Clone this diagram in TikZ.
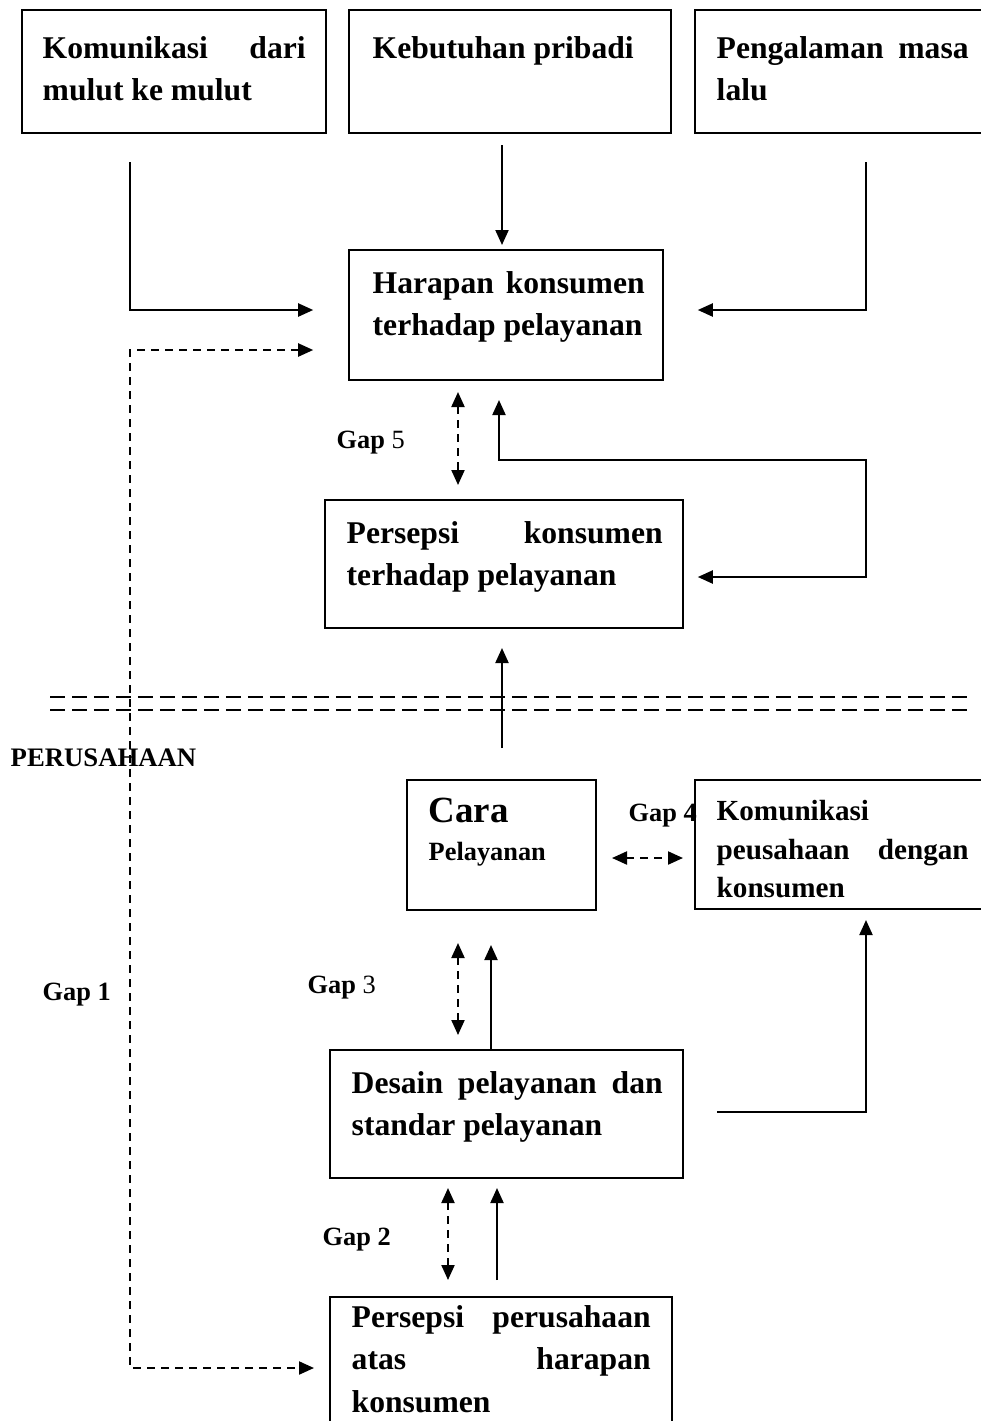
\documentclass[tikz,border=0pt]{standalone}
\usepackage{fontspec}
\setmainfont{Liberation Serif}
\usetikzlibrary{calc}
\usetikzlibrary{fit}
\usetikzlibrary{arrows.meta}
\tolerance=10000
\hyphenpenalty=10000

\tikzset{
    kotak/.style={draw, line width=0.45pt, inner sep=0pt},
    isi/.style={anchor=north west, inner sep=0pt, align=justify, font=\bfseries\fontsize{9}{11.8}\selectfont},
    panah/.style={line width=0.6pt, -{Triangle[length=1.5mm, width=1.3mm]}},
    duapanah/.style={line width=0.6pt, {Triangle[length=1.5mm, width=1.3mm]}-{Triangle[length=1.5mm, width=1.3mm]}},
    putus/.style={dash pattern=on 0.8mm off 0.6mm},
    gaplabel/.style={anchor=base west, inner sep=0pt, font=\bfseries\fontsize{7.5}{9}\selectfont},
}

\begin{document}
\begin{tikzpicture}[x=0.1mm, y=-0.1mm]
            \useasboundingbox (0,0) rectangle (981,1421);
            \node[kotak, fit={(22,10) (326,133)}] (komA) {};
            \node[kotak, fit={(349,10) (671,133)}] (kebutuhan) {};
            \node[kotak, fit={(695,10) (995,133)}] (pengalaman) {};
            \node[kotak, fit={(349,250) (663,380)}] (harapan) {};
            \node[kotak, fit={(325,500) (683,628)}] (persepsiK) {};
            \node[kotak, fit={(407,780) (596,910)}] (cara) {};
            \node[kotak, fit={(695,780) (995,909)}] (komB) {};
            \node[kotak, fit={(330,1050) (683,1178)}] (desain) {};
            \node[kotak, fit={(330,1297) (672,1440)}] (persepsiP) {};
            \node[isi, text width=2.63cm] (tkomA) at (42,36) {Komunikasi dari\linebreak mulut ke mulut};
            \node[isi, text width=2.9cm] (tkebutuhan) at (372,36) {Kebutuhan pribadi};
            \node[isi, text width=2.52cm] (tpengalaman) at (716,36) {Pengalaman masa\linebreak lalu};
            \node[isi, text width=2.72cm] (tharapan) at (372,271) {Harapan konsumen\linebreak terhadap pelayanan};
            \node[isi, text width=3.16cm] (tpersepsiK) at (346,521) {Persepsi konsumen\linebreak terhadap pelayanan};
            \node[anchor=north west, inner sep=0pt, align=left, font=\bfseries\fontsize{7.5}{10.8}\selectfont] (tcara) at (428,797) {{\bfseries\fontsize{10.5}{10.8}\selectfont Cara}\\Pelayanan};
            \node[isi, text width=2.52cm, font=\bfseries\fontsize{8.3}{10.9}\selectfont] (tkomB) at (716,800) {Komunikasi\linebreak peusahaan dengan\linebreak konsumen};
            \node[isi, text width=3.11cm] (tdesain) at (351,1071) {Desain pelayanan dan\linebreak standar pelayanan};
            \node[isi, text width=2.99cm, font=\bfseries\fontsize{9}{12}\selectfont] (tpersepsiP) at (351,1305) {Persepsi perusahaan\linebreak atas harapan\linebreak konsumen};
            \node[gaplabel, font=\bfseries\fontsize{7.6}{9}\selectfont] (perusahaan) at (10,766) {PERUSAHAAN};
            \node[gaplabel] (gap5) at (336,448) {Gap \textmd{5}};
            \node[gaplabel] (gap4) at (628,821) {Gap 4};
            \node[gaplabel] (gap3) at (307,993) {Gap \textmd{3}};
            \node[gaplabel] (gap1) at (42,1000) {Gap 1};
            \node[gaplabel] (gap2) at (322,1245) {Gap 2};
            \coordinate (komA bawah) at (130,162) {};
            \coordinate (harapan kiri) at ($(harapan.west)+(-35,-5)$) {};
            \coordinate (kebutuhan bawah) at (502,145) {};
            \coordinate (harapan atas) at (502,245) {};
            \coordinate (pengalaman bawah) at (866,162) {};
            \coordinate (harapan kanan) at ($(harapan.east)+(34,-5)$) {};
            \coordinate (gap1 atas) at ($(harapan.west)+(-35,35)$) {};
            \coordinate (gap1 sudut atas) at (130,350) {};
            \coordinate (gap1 sudut bawah) at (130,1368) {};
            \coordinate (gap1 bawah) at (314,1368) {};
            \coordinate (gap5 atas) at (458,392) {};
            \coordinate (gap5 bawah) at (458,485) {};
            \coordinate (harapan bawah) at (499,400) {};
            \coordinate (balik) at (866,460) {};
            \coordinate (persepsiK kanan) at ($(persepsiK.east)+(14,13)$) {};
            \coordinate (persepsiK bawah) at (502,648) {};
            \coordinate (cara atas) at (502,748) {};
            \coordinate (garis kiri) at (50,697) {};
            \coordinate (garis kanan) at (968,697) {};
            \coordinate (gap4 kiri) at (612,858) {};
            \coordinate (gap4 kanan) at (683,858) {};
            \coordinate (gap3 atas) at (458,943) {};
            \coordinate (gap3 bawah) at (458,1035) {};
            \coordinate (cara bawah) at (491,945) {};
            \coordinate (desain atas) at (491,1050) {};
            \coordinate (desain kanan) at (717,1112) {};
            \coordinate (komB bawah) at (866,920) {};
            \coordinate (gap2 atas) at (448,1188) {};
            \coordinate (gap2 bawah) at (448,1280) {};
            \coordinate (desain bawah) at (497,1188) {};
            \coordinate (persepsiP atas) at (497,1280) {};
            \draw[panah] (komA bawah) |- (harapan kiri);
            \draw[panah] (kebutuhan bawah) -- (harapan atas);
            \draw[panah] (pengalaman bawah) |- (harapan kanan);
            \draw[duapanah, putus] (gap1 atas) -- (gap1 sudut atas) -- (gap1 sudut bawah) -- (gap1 bawah);
            \draw[duapanah, putus] (gap5 atas) -- (gap5 bawah);
            \draw[duapanah] (harapan bawah) |- (balik) |- (persepsiK kanan);
            \draw[panah] (cara atas) -- (persepsiK bawah);
            \draw[line width=0.6pt, dash pattern=on 1.5mm off 0.7mm] (garis kiri) -- (garis kanan);
            \draw[line width=0.6pt, dash pattern=on 1.5mm off 0.7mm] ($(garis kiri)+(0,13)$) -- ($(garis kanan)+(0,13)$);
            \draw[duapanah, putus] (gap4 kiri) -- (gap4 kanan);
            \draw[duapanah, putus] (gap3 atas) -- (gap3 bawah);
            \draw[panah] (desain atas) -- (cara bawah);
            \draw[panah] (desain kanan) -| (komB bawah);
            \draw[duapanah, putus] (gap2 atas) -- (gap2 bawah);
            \draw[panah] (persepsiP atas) -- (desain bawah);
        \end{tikzpicture}
\end{document}
